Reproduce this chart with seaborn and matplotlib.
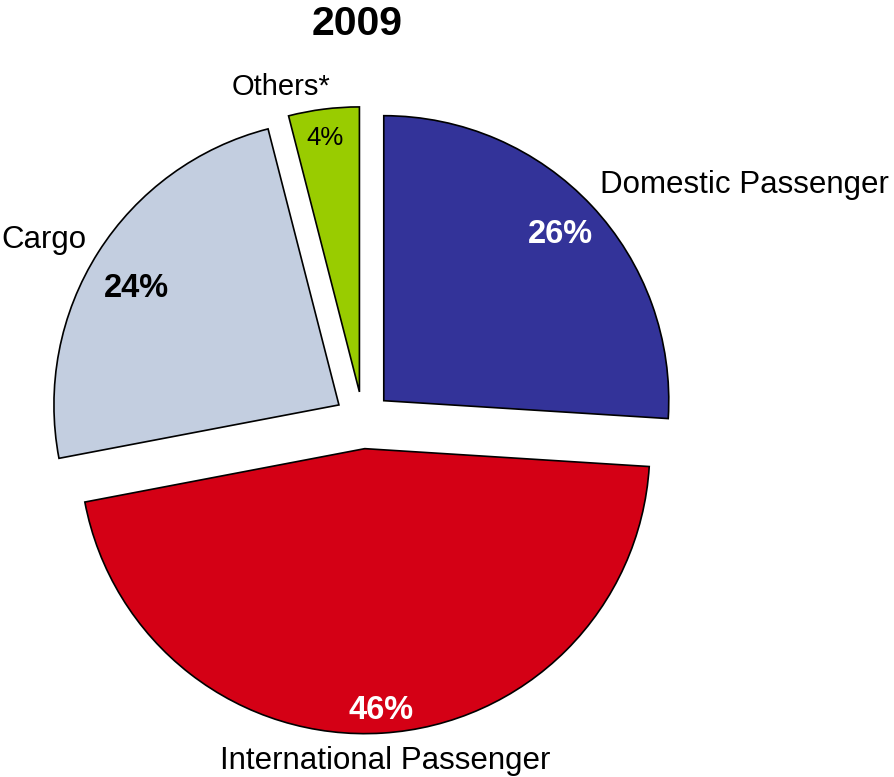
import numpy as np
import matplotlib
matplotlib.use("Agg")
import matplotlib.pyplot as plt
import seaborn as sns

# Revenue split, 2009
categories = ["Domestic Passenger", "International Passenger", "Cargo", "Others*"]
shares = [26, 46, 24, 4]
slice_colors = ["#333399", "#D40015", "#C3CEE0", "#99CC00"]
title = "2009"

sns.set_theme(style="white")
plt.rcParams["font.family"] = ["Liberation Sans", "DejaVu Sans"]

palette = sns.color_palette(slice_colors)

fig = plt.figure(figsize=(8.95, 7.77), dpi=100)
ax = fig.add_axes([0, 0, 1, 1])

wedges, _ = ax.pie(
    shares,
    colors=palette,
    startangle=90,
    counterclock=False,
    explode=[0.1] * len(shares),
    radius=1.0,
    wedgeprops=dict(edgecolor="black", linewidth=1.2),
)

# layout of the value and name labels (radius factor, angle offset from slice middle)
pct_style = [
    dict(dist=0.85, off=0.0, color="white", weight="bold", size=23.5),
    dict(dist=0.92, off=0.0, color="white", weight="bold", size=23.5),
    dict(dist=0.82, off=2.6, color="black", weight="bold", size=23.5),
    dict(dist=0.90, off=0.5, color="black", weight="normal", size=18.5),
]
name_style = [
    dict(dist=1.072, off=1.7, ha="left", size=22.5),
    dict(dist=1.097, off=0.1, ha="center", size=22.5),
    dict(dist=1.057, off=-0.8, ha="right", size=22.5),
    dict(dist=1.105, off=7.3, ha="center", size=21),
]

for w, cat, val, ps, ns in zip(wedges, categories, shares, pct_style, name_style):
    mid = 0.5 * (w.theta1 + w.theta2)
    cx, cy = w.center
    a = np.deg2rad(mid + ps["off"])
    ax.text(cx + ps["dist"] * np.cos(a), cy + ps["dist"] * np.sin(a),
            f"{val}%", ha="center", va="center", color=ps["color"],
            fontweight=ps["weight"], fontsize=ps["size"])
    a = np.deg2rad(mid + ns["off"])
    ax.text(cx + ns["dist"] * np.cos(a), cy + ns["dist"] * np.sin(a),
            cat, ha=ns["ha"], va="center", color="black", fontsize=ns["size"])

scale = 285.0
ax.set_xlim(-363 / scale, (895 - 363) / scale)
ax.set_ylim(-(777 - 420.2) / scale, 420.2 / scale)
ax.set_aspect("equal")
ax.axis("off")

fig.text(357 / 895, 1 - 24 / 777, title, ha="center", va="center",
         fontsize=29.5, fontweight="bold", color="black")

fig.savefig("out.png", dpi=100, facecolor="white")
